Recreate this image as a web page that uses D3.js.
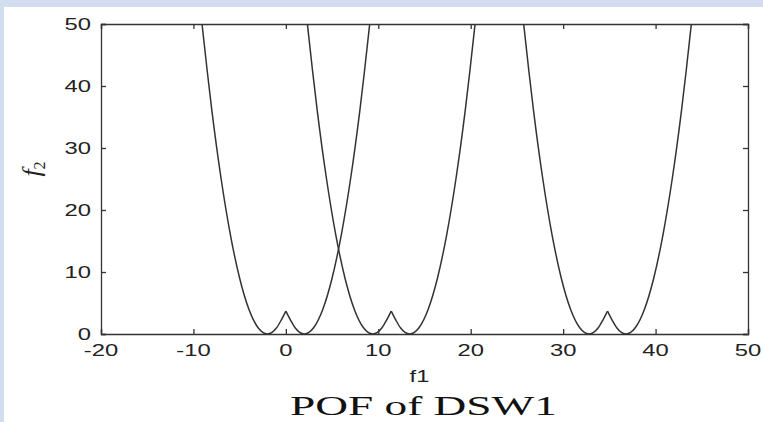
<!DOCTYPE html>
<html>
<head>
<meta charset="utf-8">
<script src="https://cdn.jsdelivr.net/npm/d3@7"></script>
<style>
  html, body { margin: 0; padding: 0; background: #fff; }
  svg { display: block; }
</style>
</head>
<body>
<div id="chart"></div>
<script>
const WIDTH = 763;
const HEIGHT = 422;

const F1_DOMAIN = [-20, 50];
const F2_DOMAIN = [0, 50];
const F1_TICKS = [-20, -10, 0, 10, 20, 30, 40, 50];
const F2_TICKS = [0, 10, 20, 30, 40, 50];

// POF of DSW1: three W-shaped pieces
const W1_F1 = [-9.07, -8.5, -8, -7, -6, -5, -4, -3, -2.5, -2, -1.5, -1, -0.5, 0,
  0.5, 1, 1.5, 2, 2.5, 3, 4, 5, 6, 7, 8, 8.5, 9.07];
const W1_F2 = [50, 42.3, 36, 25, 16, 9, 4, 1, 0.25, 0, 0.25, 1, 2.25, 3.7,
  2.25, 1, 0.25, 0, 0.25, 1, 4, 9, 16, 25, 36, 42.3, 50];

const W2_F1 = [2.33, 2.9, 3.4, 4.4, 5.4, 6.4, 7.4, 8.4, 8.9, 9.4, 9.9, 10.4, 10.9, 11.4,
  11.9, 12.4, 12.9, 13.4, 13.9, 14.4, 15.4, 16.4, 17.4, 18.4, 19.4, 19.9, 20.47];
const W2_F2 = [50, 42.3, 36, 25, 16, 9, 4, 1, 0.25, 0, 0.25, 1, 2.25, 3.7,
  2.25, 1, 0.25, 0, 0.25, 1, 4, 9, 16, 25, 36, 42.3, 50];

const W3_F1 = [25.73, 26.3, 26.8, 27.8, 28.8, 29.8, 30.8, 31.8, 32.3, 32.8, 33.3, 33.8, 34.3, 34.8,
  35.3, 35.8, 36.3, 36.8, 37.3, 37.8, 38.8, 39.8, 40.8, 41.8, 42.8, 43.3, 43.87];
const W3_F2 = [50, 42.3, 36, 25, 16, 9, 4, 1, 0.25, 0, 0.25, 1, 2.25, 3.7,
  2.25, 1, 0.25, 0, 0.25, 1, 4, 9, 16, 25, 36, 42.3, 50];

const SERIES = [[W1_F1, W1_F2], [W2_F1, W2_F2], [W3_F1, W3_F2]];

const plot = { left: 101, right: 748, top: 24, bottom: 334 };
const TEXT_STRETCH = 1.4; // the source image is stretched sideways
const INK = "#333";

const x = d3.scaleLinear().domain(F1_DOMAIN).range([plot.left, plot.right]);
const y = d3.scaleLinear().domain(F2_DOMAIN).range([plot.bottom, plot.top]);

const svg = d3.select("#chart").append("svg")
  .attr("width", WIDTH)
  .attr("height", HEIGHT);

// light blue frame on the top and left, white page elsewhere
svg.append("rect").attr("width", WIDTH).attr("height", HEIGHT).attr("fill", "#d3ddf0");
svg.append("rect").attr("x", 4).attr("y", 7)
  .attr("width", WIDTH - 4).attr("height", HEIGHT - 7).attr("fill", "#fff");

svg.append("clipPath").attr("id", "plot-clip")
  .append("rect")
  .attr("x", plot.left).attr("y", plot.top)
  .attr("width", plot.right - plot.left).attr("height", plot.bottom - plot.top);

// curves: split each W at its cusp so the peak stays sharp
const line = d3.line()
  .x((d) => x(d[0]))
  .y((d) => y(d[1]))
  .curve(d3.curveMonotoneX);

const curves = svg.append("g").attr("clip-path", "url(#plot-clip)");
SERIES.forEach(([f1, f2]) => {
  const pts = f1.map((v, i) => [v, f2[i]]);
  let cusp = 1;
  for (let i = 1; i < pts.length - 1; i++) {
    if (pts[i][1] > pts[i - 1][1] && pts[i][1] > pts[i + 1][1]) cusp = i;
  }
  [pts.slice(0, cusp + 1), pts.slice(cusp)].forEach((seg) => {
    curves.append("path")
      .attr("d", line(seg))
      .attr("fill", "none")
      .attr("stroke", INK)
      .attr("stroke-width", 1.5);
  });
});

// axes box with inward ticks on all four sides
const tickLen = 5;
const axisG = svg.append("g");
axisG.append("g").attr("transform", `translate(0,${plot.bottom})`)
  .call(d3.axisBottom(x).tickValues(F1_TICKS).tickSize(-tickLen).tickFormat(""));
axisG.append("g").attr("transform", `translate(0,${plot.top})`)
  .call(d3.axisTop(x).tickValues(F1_TICKS).tickSize(-tickLen).tickFormat(""));
axisG.append("g").attr("transform", `translate(${plot.left},0)`)
  .call(d3.axisLeft(y).tickValues(F2_TICKS).tickSize(-tickLen).tickFormat(""));
axisG.append("g").attr("transform", `translate(${plot.right},0)`)
  .call(d3.axisRight(y).tickValues(F2_TICKS).tickSize(-tickLen).tickFormat(""));
axisG.selectAll(".domain").attr("stroke", INK).attr("stroke-width", 1.3);
axisG.selectAll(".tick line").attr("stroke", INK).attr("stroke-width", 1.3);

function stretched(sel, px, py, sx) {
  return sel.attr("transform", `translate(${px},${py}) scale(${sx},1)`);
}

const labelFont = "'Liberation Sans', Arial, sans-serif";

// tick labels
F1_TICKS.forEach((t) => {
  stretched(svg.append("text"), x(t), 356, TEXT_STRETCH)
    .attr("text-anchor", "middle")
    .attr("font-family", labelFont)
    .attr("font-size", 17)
    .attr("fill", "#222")
    .text(d3.format("d")(t).replace("−", "-"));
});
F2_TICKS.forEach((t) => {
  stretched(svg.append("text"), 91, y(t) + 6, TEXT_STRETCH)
    .attr("text-anchor", "end")
    .attr("font-family", labelFont)
    .attr("font-size", 17)
    .attr("fill", "#222")
    .text(t);
});

// x axis label
stretched(svg.append("text"), (plot.left + plot.right) / 2 - 5, 382, TEXT_STRETCH)
  .attr("text-anchor", "middle")
  .attr("font-family", labelFont)
  .attr("font-size", 17)
  .attr("fill", "#222")
  .text("f1");

// y axis label: italic f with subscript 2
const yLab = svg.append("text")
  .attr("transform", `translate(40,${(plot.top + plot.bottom) / 2 - 10}) rotate(-90)`)
  .attr("text-anchor", "middle")
  .attr("font-family", "'Liberation Serif', 'DejaVu Serif', serif")
  .attr("fill", "#222");
yLab.append("tspan").attr("font-size", 26).attr("font-style", "italic").text("f");
yLab.append("tspan").attr("font-size", 16).attr("dy", 5).text("2");

// title
svg.append("text")
  .attr("x", 423.5)
  .attr("y", 415)
  .attr("text-anchor", "middle")
  .attr("font-family", "'Liberation Serif', 'DejaVu Serif', serif")
  .attr("font-size", 27)
  .attr("fill", "#111")
  .attr("textLength", 267)
  .attr("lengthAdjust", "spacingAndGlyphs")
  .text("POF of DSW1");
</script>
</body>
</html>
